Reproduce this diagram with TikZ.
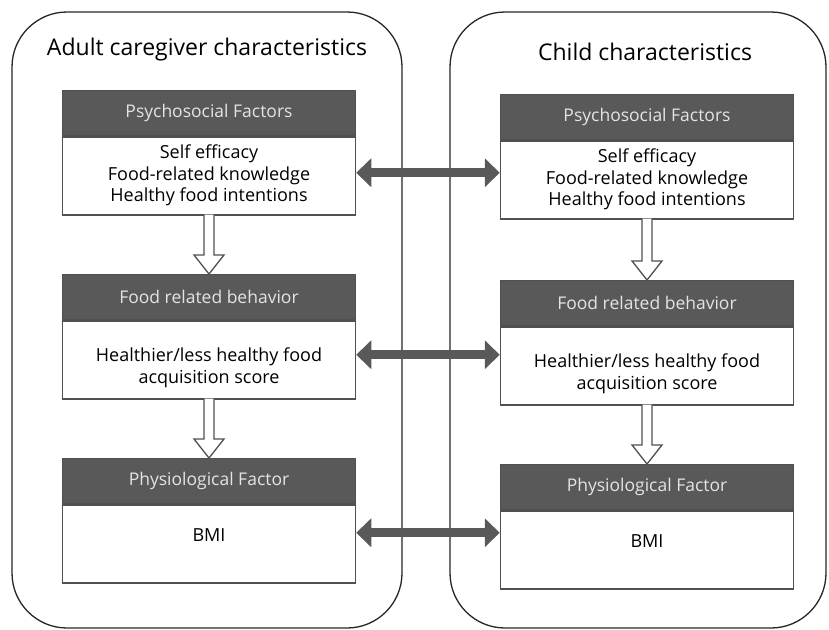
\documentclass[tikz,border=0pt]{standalone}
\usepackage{fontspec}
\setmainfont{Open Sans}
\usetikzlibrary{positioning,calc,arrows.meta}
\definecolor{hdrgray}{HTML}{595959}
\definecolor{hdrtext}{HTML}{E4E4E4}
\definecolor{boxline}{HTML}{505050}
% hollow down arrow between a body and the next header
\newcommand{\stepdown}[2]{%
  \draw[flow] let \p1=(#1.south), \p2=(#2.north) in
    (\x1-5pt,\y1+1pt) -- (\x1-5pt,\y2+19pt) -- (\x1-15pt,\y2+19pt) -- (\x1,\y2)
    -- (\x1+15pt,\y2+19pt) -- (\x1+5pt,\y2+19pt) -- (\x1+5pt,\y1+1pt);}

\begin{document}
\begin{tikzpicture}[x=1pt,y=-1pt,
  panel/.style={draw=black!85,line width=1.3pt,rounded corners=55pt},
  paneltitle/.style={font=\fontsize{23}{27}\selectfont},
  header/.style={draw=boxline,fill=hdrgray,text=hdrtext,minimum width=293pt,minimum height=45pt,inner sep=0pt,font=\fontsize{17.5}{20}\selectfont,line width=1pt},
  body/.style={draw=boxline,fill=white,minimum width=293pt,minimum height=78pt,inner sep=0pt,align=center,font=\fontsize{18}{21.5}\selectfont,line width=1.5pt},
  flow/.style={draw=boxline,fill=white,line width=1.3pt,line join=miter},
  link/.style={hdrgray,line width=9pt,{Triangle[length=15pt,width=28pt]}-{Triangle[length=15pt,width=28pt]}}]

\useasboundingbox (0,0) rectangle (829,629);

% the two groups
\draw[panel] (12,12) rectangle (402,628);
\draw[panel] (450,12) rectangle (826,628);
\node[paneltitle] (adult) at (207,50) {Adult caregiver characteristics};
\node[paneltitle] (child) at (645,52) {Child characteristics};

% adult caregiver column
\node[header,anchor=north west] (ah1) at (62,90) {Psychosocial Factors};
\node[body,below=0pt of ah1] (ab1) {Self efficacy\\Food-related knowledge\\Healthy food intentions};
\node[header,anchor=north west] (ah2) at (62,274) {Food related behavior};
\node[body,below=0pt of ah2] (ab2) {\rule{0pt}{30pt}Healthier/less healthy food\\acquisition score};
\node[header,anchor=north west] (ah3) at (62,458) {Physiological Factor};
\node[body,below=0pt of ah3] (ab3) {BMI\rule[-18pt]{0pt}{0pt}};

% child column
\node[header,anchor=north west] (ch1) at (500,94) {Psychosocial Factors};
\node[body,below=0pt of ch1] (cb1) {Self efficacy\\Food-related knowledge\\Healthy food intentions};
\node[header,anchor=north west] (ch2) at (500,280) {Food related behavior};
\node[body,below=0pt of ch2] (cb2) {\rule{0pt}{30pt}Healthier/less healthy food\\acquisition score};
\node[header,anchor=north west] (ch3) at (500,464) {Physiological Factor};
\node[body,below=0pt of ch3] (cb3) {BMI\rule[-18pt]{0pt}{0pt}};

\stepdown{ab1}{ah2}
\stepdown{ab2}{ah3}
\stepdown{cb1}{ch2}
\stepdown{cb2}{ch3}

% links between adult and child
\coordinate (l1) at ([yshift=3pt]ab1.east);
\coordinate (l2) at ([yshift=5pt]ab2.east);
\coordinate (l3) at ([yshift=11pt]ab3.east);
\draw[link] (l1) -- (l1 -| cb1.west);
\draw[link] (l2) -- (l2 -| cb2.west);
\draw[link] (l3) -- (l3 -| cb3.west);
\end{tikzpicture}
\end{document}
